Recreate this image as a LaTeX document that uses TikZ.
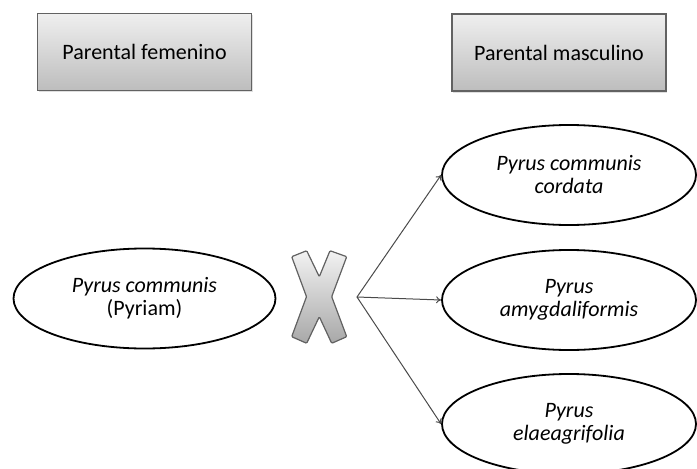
\documentclass[tikz,border=0pt]{standalone}
\usepackage{fontspec}
\setmainfont{Carlito}
\usetikzlibrary{shapes.geometric,arrows.meta,shadows}
\definecolor{boxtop}{HTML}{EFEFEF}
\definecolor{boxbot}{HTML}{BDBDBD}
\definecolor{boxline}{HTML}{626262}
\definecolor{arrowc}{HTML}{4A4A4A}
\definecolor{xtop}{HTML}{F2F2F2}
\definecolor{xbot}{HTML}{A8A8A8}
\begin{document}
\begin{tikzpicture}[x=1pt,y=-1pt,
  parbox/.style={draw=boxline, line width=1.4pt, top color=boxtop, bottom color=boxbot,
    minimum width=214pt, minimum height=77pt, inner sep=0pt,
    font=\fontsize{22}{26}\selectfont, text=black,
    drop shadow={opacity=0.25,shadow xshift=1pt,shadow yshift=-1.5pt}},
  taxon/.style={ellipse, draw=black, line width=1.8pt, inner sep=0pt, align=center,
    font=\fontsize{22}{23}\selectfont, text=black},
  link/.style={draw=arrowc, line width=1pt, -{To[length=5pt,width=7pt]}}]
\useasboundingbox (0,0) rectangle (697,469);
\fill[white] (0,0) rectangle (697,469);

\node[parbox] (fem) at (144.5,52) {Parental femenino};
\node[parbox] (mas) at (559,52.5) {Parental masculino};

\node[taxon, minimum width=262pt, minimum height=100pt] (pc) at (144.5,298.5)
  {\itshape Pyrus communis\\(Pyriam)};
\node[taxon, minimum width=254pt, minimum height=100pt] (e1) at (569,175)
  {\itshape Pyrus communis\\\itshape cordata};
\node[taxon, minimum width=254pt, minimum height=100pt] (e2) at (569,300)
  {\itshape Pyrus\\\itshape amygdaliformis};
\node[taxon, minimum width=254pt, minimum height=100pt] (e3) at (569,424)
  {\itshape Pyrus\\\itshape elaeagrifolia};

% cross symbol
\filldraw[draw=boxline, line width=1.2pt, top color=xtop, bottom color=xbot, rounded corners=1pt]
  (291.7,256.7) -- (306.7,250.7) -- (319.3,276.7) -- (330,250.7) -- (346.7,256.7)
  -- (331.7,296.7) -- (346.7,336.7) -- (331.7,343.3) -- (319.3,316.7) -- (306.7,343.3)
  -- (291.7,336.7) -- (306.5,296.7) -- cycle;

\coordinate (src) at (357,297);
\draw[link] (src) -- (e1.west);
\draw[link] (src) -- (e2.west);
\draw[link] (src) -- (e3.west);
\end{tikzpicture}
\end{document}
